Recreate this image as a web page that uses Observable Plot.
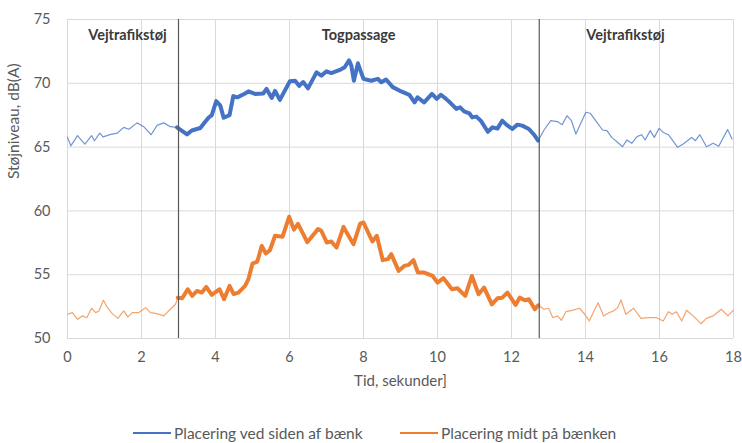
<!DOCTYPE html>
<html><head><meta charset="utf-8">
<script src="https://cdn.jsdelivr.net/npm/d3@7"></script>
<script src="https://cdn.jsdelivr.net/npm/@observablehq/plot@0.6"></script>
<style>
body{margin:0;background:#fff;font-family:Lato,"Open Sans",sans-serif;}
#wrap{position:relative;width:742px;height:443px;overflow:hidden;}
.item{position:absolute;top:423px;display:flex;align-items:center;font-size:15.5px;color:#595959;white-space:nowrap;line-height:20px;}
.sw{display:inline-block;width:38px;height:2px;margin-right:3px;}
</style>
</head><body>
<div id="wrap"><div id="chart"></div>
<div id="legend"></div></div>
<script>
// ---- data ----
const seriesNames = ["Placering ved siden af bænk", "Placering midt på bænken"];
const seriesColors = ["#4472C4", "#ED7D31"];
const blueT = [0,0.09,0.27,0.47,0.65,0.73,0.87,0.96,1.17,1.35,1.52,1.66,1.88,2.06,2.26,2.42,2.6,2.78,2.96,3.23,3.36,3.59,3.7,3.81,3.9,4.02,4.13,4.22,4.38,4.48,4.59,4.8,4.89,5.07,5.29,5.38,5.52,5.61,5.74,6.01,6.15,6.26,6.37,6.5,6.73,6.86,7.0,7.13,7.36,7.49,7.61,7.67,7.74,7.85,7.91,8.0,8.21,8.39,8.48,8.61,8.79,8.97,9.24,9.38,9.46,9.64,9.85,9.98,10.09,10.23,10.36,10.51,10.61,10.72,10.86,10.94,11.05,11.17,11.36,11.49,11.62,11.75,11.86,12.02,12.16,12.29,12.47,12.61,12.72,12.88,13.06,13.24,13.37,13.5,13.62,13.74,13.86,14.01,14.13,14.31,14.46,14.58,14.71,14.85,15.0,15.12,15.25,15.39,15.52,15.61,15.75,15.86,15.99,16.1,16.24,16.49,16.64,16.87,16.97,17.09,17.27,17.45,17.6,17.84,17.96];
const blueV = [65.76,65.1,65.9,65.24,65.9,65.5,66.1,65.8,66.0,66.1,66.55,66.4,66.9,66.6,65.97,66.7,66.9,66.6,66.55,66.0,66.3,66.5,66.9,67.3,67.5,68.6,68.25,67.3,67.5,69.0,68.9,69.2,69.37,69.17,69.2,69.56,68.85,69.4,68.7,70.16,70.2,69.8,70.1,69.6,70.86,70.6,70.94,70.8,71.05,71.26,71.8,71.4,70.2,71.57,71.05,70.35,70.2,70.35,70.08,70.3,69.7,69.43,69.1,68.5,68.9,68.5,69.17,68.78,69.1,68.78,68.43,67.99,68.12,67.8,67.65,67.33,67.39,67.07,66.2,66.55,66.45,67.07,66.76,66.42,66.76,66.68,66.42,65.97,65.5,66.34,67.07,67.0,66.76,67.46,67.07,66.03,66.8,67.73,67.65,66.94,66.34,66.29,65.76,65.42,65.03,65.56,65.3,65.82,65.97,65.56,66.29,65.76,66.47,66.15,65.97,64.98,65.24,65.76,65.5,65.97,65.03,65.3,65.06,66.37,65.63];
const orangeT = [0,0.13,0.27,0.4,0.52,0.65,0.76,0.85,0.97,1.08,1.21,1.36,1.52,1.63,1.75,1.93,2.11,2.24,2.42,2.6,2.78,2.92,2.98,3.1,3.25,3.37,3.5,3.63,3.75,3.9,4.11,4.23,4.38,4.49,4.62,4.8,4.89,5.0,5.13,5.25,5.36,5.47,5.61,5.81,5.99,6.12,6.23,6.48,6.77,6.86,7.01,7.13,7.27,7.46,7.61,7.73,7.91,8.0,8.24,8.36,8.52,8.66,8.75,8.95,9.1,9.22,9.35,9.47,9.64,9.87,10.0,10.16,10.39,10.54,10.75,10.93,11.11,11.26,11.47,11.62,11.75,11.89,12.11,12.22,12.36,12.47,12.63,12.72,12.88,13.0,13.12,13.24,13.35,13.47,13.64,13.84,13.98,14.1,14.34,14.49,14.64,14.76,14.87,14.96,15.09,15.3,15.5,15.7,15.92,16.1,16.24,16.35,16.46,16.6,16.73,16.91,17.12,17.27,17.45,17.67,17.85,17.99];
const orangeV = [51.9,52.03,51.5,51.77,51.63,52.37,52.03,52.16,53.0,52.42,51.95,51.58,52.16,51.69,52.03,52.03,52.42,52.03,51.95,51.77,52.29,52.68,53.2,53.15,53.86,53.34,53.73,53.6,54.04,53.42,53.86,53.08,54.12,53.47,53.6,54.12,54.65,55.87,56.03,57.26,56.66,56.92,58.05,57.97,59.54,58.53,58.98,57.55,58.57,58.44,57.52,57.6,57.13,58.75,57.97,57.39,59.0,59.09,57.6,58.05,56.14,56.22,56.61,55.3,55.69,55.77,56.14,55.17,55.17,54.9,54.38,54.73,53.86,53.94,53.34,54.9,53.47,53.99,52.68,53.15,53.2,53.6,52.63,53.2,53.0,53.08,52.29,52.6,52.29,52.37,51.63,51.77,51.43,52.1,52.21,52.37,51.9,51.37,52.81,51.77,52.03,52.16,52.42,53.02,51.9,52.37,51.58,51.63,51.63,51.37,52.1,51.9,52.1,51.37,52.21,51.77,51.16,51.58,51.77,52.29,51.77,52.21];
const xTicks = [0,2,4,6,8,10,12,14,16,18];
const yTicks = [50,55,60,65,70,75];
const phaseBounds = [3, 12.75];
const regionLabels = ["Vejtrafikstøj", "Togpassage", "Vejtrafikstøj"];
const regionX = [1.62, 7.87, 15.08];
const regionY = [73.75, 73.75, 73.75];
const xTitle = "Tid, sekunder]";
const yTitle = "Støjniveau, dB(A)";

// ---- build ----
const blue = blueT.map((t, i) => ({t, v: blueV[i]}));
const orange = orangeT.map((t, i) => ({t, v: orangeV[i]}));
const inPass = d => d.t >= 2.95 && d.t <= 12.75;
const txt = "#595959";

const chart = Plot.plot({
  width: 742, height: 405,
  marginLeft: 67, marginRight: 9, marginTop: 19, marginBottom: 67,
  style: {fontFamily: "Lato, 'Open Sans', sans-serif", fontSize: "14.5px", color: txt, background: "#fff"},
  x: {domain: [0, 18]},
  y: {domain: [50, 75]},
  marks: [
    Plot.gridX(xTicks, {stroke: "#d9d9d9", strokeOpacity: 1, strokeWidth: 1}),
    Plot.gridY(yTicks, {stroke: "#d9d9d9", strokeOpacity: 1, strokeWidth: 1}),
    Plot.axisX(xTicks, {tickSize: 0, tickPadding: 13, label: null, fill: txt, fontSize: 14.5}),
    Plot.axisY(yTicks, {tickSize: 0, tickPadding: 17, label: null, fill: txt, fontSize: 14.5}),
    Plot.text([xTitle], {frameAnchor: "bottom", dy: 47, fill: txt, fontSize: 15}),
    Plot.text([yTitle], {frameAnchor: "left", dx: -53, rotate: -90, fill: txt, fontSize: 15.5}),
    Plot.line(blue, {x: "t", y: "v", stroke: seriesColors[0], strokeWidth: 1.2, strokeOpacity: 0.75}),
    Plot.line(orange, {x: "t", y: "v", stroke: seriesColors[1], strokeWidth: 1.2, strokeOpacity: 0.7}),
    Plot.line(blue.filter(inPass), {x: "t", y: "v", stroke: seriesColors[0], strokeWidth: 4, strokeLinejoin: "round"}),
    Plot.line(orange.filter(inPass), {x: "t", y: "v", stroke: seriesColors[1], strokeWidth: 4, strokeLinejoin: "round"}),
    Plot.ruleX(phaseBounds, {stroke: "#595959", strokeWidth: 1.2}),
    Plot.text(regionLabels, {x: regionX, y: regionY, text: d => d, fontWeight: "bold", fontSize: 14.5, fill: "#3a3a3a"})
  ]
});
document.getElementById("chart").appendChild(chart);

const leg = document.getElementById("legend");
const legLeft = [133, 400];
seriesNames.forEach((n, i) => {
  const it = document.createElement("span");
  it.className = "item";
  it.style.left = legLeft[i] + "px";
  const sw = document.createElement("span");
  sw.className = "sw";
  sw.style.background = seriesColors[i];
  it.appendChild(sw);
  it.appendChild(document.createTextNode(n));
  leg.appendChild(it);
});
</script>
</body></html>
